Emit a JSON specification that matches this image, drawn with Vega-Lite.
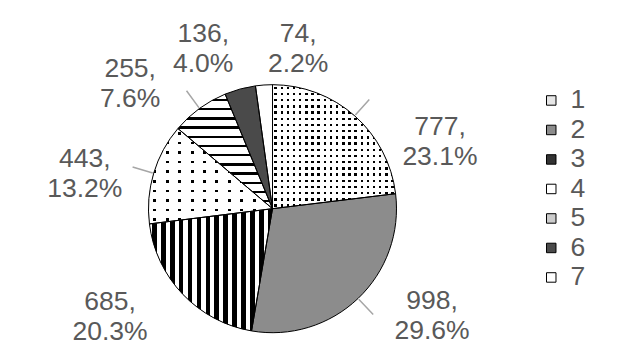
{
  "$schema": "https://vega.github.io/schema/vega-lite/v6.json",
  "width": 545,
  "height": 294,
  "autosize": {"type": "none"},
  "padding": {"left": 0, "top": 61.7, "right": 80, "bottom": 0.3},
  "background": "white",
  "view": {"stroke": null},
  "config": {"font": "Liberation Sans"},
  "data": {
    "values": [
      {"k": 1, "value": 777, "label": "777,\n23.1%"},
      {"k": 2, "value": 998, "label": "998,\n29.6%"},
      {"k": 3, "value": 685, "label": "685,\n20.3%"},
      {"k": 4, "value": 443, "label": "443,\n13.2%"},
      {"k": 5, "value": 255, "label": "255,\n7.6%"},
      {"k": 6, "value": 136, "label": "136,\n4.0%"},
      {"k": 7, "value": 74, "label": "74,\n2.2%"}
    ]
  },
  "layer": [
    {
      "mark": {"type": "arc", "radius": 124},
      "encoding": {
        "theta": {"field": "value", "type": "quantitative", "stack": true},
        "order": {"field": "k", "type": "quantitative", "sort": "ascending"},
        "color": {
          "field": "k",
          "type": "nominal",
          "scale": {"domain": [1, 2, 3, 4, 5, 6, 7], "range": ["#e6e6e6", "#8c8c8c", "#333333", "#ffffff", "#cccccc", "#4a4a4a", "#ffffff"]},
          "legend": {
            "orient": "none",
            "legendX": 538,
            "legendY": 25.5,
            "title": null,
            "symbolType": "square",
            "symbolSize": 90,
            "symbolStrokeColor": "#000000",
            "symbolStrokeWidth": 1,
            "symbolOpacity": 1,
            "labelFontSize": 26.5,
            "labelFont": "Liberation Sans",
            "labelColor": "#595959",
            "labelOffset": 6,
            "rowPadding": 2.5,
            "padding": 0
          }
        }
      }
    },
    {
      "mark": {"type": "arc", "radius": 124},
      "encoding": {
        "theta": {"field": "value", "type": "quantitative", "stack": true},
        "order": {"field": "k", "type": "quantitative", "sort": "ascending"},
        "fill": {
          "condition": [
            {"test": "datum.k == 3", "value": {"gradient": "linear", "x1": 0, "y1": 0, "x2": 1, "y2": 0, "stops": [
              {"offset": 0, "color": "#fff"},
              {"offset": 0.022, "color": "#fff"}, {"offset": 0.022, "color": "#000"}, {"offset": 0.0593, "color": "#000"}, {"offset": 0.0593, "color": "#fff"},
              {"offset": 0.0943, "color": "#fff"}, {"offset": 0.0943, "color": "#000"}, {"offset": 0.1317, "color": "#000"}, {"offset": 0.1317, "color": "#fff"},
              {"offset": 0.1667, "color": "#fff"}, {"offset": 0.1667, "color": "#000"}, {"offset": 0.2041, "color": "#000"}, {"offset": 0.2041, "color": "#fff"},
              {"offset": 0.239, "color": "#fff"}, {"offset": 0.239, "color": "#000"}, {"offset": 0.2764, "color": "#000"}, {"offset": 0.2764, "color": "#fff"},
              {"offset": 0.3114, "color": "#fff"}, {"offset": 0.3114, "color": "#000"}, {"offset": 0.3488, "color": "#000"}, {"offset": 0.3488, "color": "#fff"},
              {"offset": 0.3837, "color": "#fff"}, {"offset": 0.3837, "color": "#000"}, {"offset": 0.4211, "color": "#000"}, {"offset": 0.4211, "color": "#fff"},
              {"offset": 0.4561, "color": "#fff"}, {"offset": 0.4561, "color": "#000"}, {"offset": 0.4935, "color": "#000"}, {"offset": 0.4935, "color": "#fff"},
              {"offset": 0.5285, "color": "#fff"}, {"offset": 0.5285, "color": "#000"}, {"offset": 0.5659, "color": "#000"}, {"offset": 0.5659, "color": "#fff"},
              {"offset": 0.6008, "color": "#fff"}, {"offset": 0.6008, "color": "#000"}, {"offset": 0.6382, "color": "#000"}, {"offset": 0.6382, "color": "#fff"},
              {"offset": 0.6732, "color": "#fff"}, {"offset": 0.6732, "color": "#000"}, {"offset": 0.7106, "color": "#000"}, {"offset": 0.7106, "color": "#fff"},
              {"offset": 0.7455, "color": "#fff"}, {"offset": 0.7455, "color": "#000"}, {"offset": 0.7829, "color": "#000"}, {"offset": 0.7829, "color": "#fff"},
              {"offset": 0.8179, "color": "#fff"}, {"offset": 0.8179, "color": "#000"}, {"offset": 0.8553, "color": "#000"}, {"offset": 0.8553, "color": "#fff"},
              {"offset": 0.8902, "color": "#fff"}, {"offset": 0.8902, "color": "#000"}, {"offset": 0.9276, "color": "#000"}, {"offset": 0.9276, "color": "#fff"},
              {"offset": 0.9626, "color": "#fff"}, {"offset": 0.9626, "color": "#000"}, {"offset": 1, "color": "#000"}
            ]}},
            {"test": "datum.k == 5", "value": {"gradient": "linear", "x1": 0, "y1": 0, "x2": 0, "y2": 1, "stops": [
              {"offset": 0, "color": "#fff"},
              {"offset": 0.0401, "color": "#fff"}, {"offset": 0.0401, "color": "#000"}, {"offset": 0.0628, "color": "#000"}, {"offset": 0.0628, "color": "#fff"},
              {"offset": 0.1204, "color": "#fff"}, {"offset": 0.1204, "color": "#000"}, {"offset": 0.1431, "color": "#000"}, {"offset": 0.1431, "color": "#fff"},
              {"offset": 0.2007, "color": "#fff"}, {"offset": 0.2007, "color": "#000"}, {"offset": 0.2234, "color": "#000"}, {"offset": 0.2234, "color": "#fff"},
              {"offset": 0.281, "color": "#fff"}, {"offset": 0.281, "color": "#000"}, {"offset": 0.3037, "color": "#000"}, {"offset": 0.3037, "color": "#fff"},
              {"offset": 0.3613, "color": "#fff"}, {"offset": 0.3613, "color": "#000"}, {"offset": 0.3839, "color": "#000"}, {"offset": 0.3839, "color": "#fff"},
              {"offset": 0.4415, "color": "#fff"}, {"offset": 0.4415, "color": "#000"}, {"offset": 0.4642, "color": "#000"}, {"offset": 0.4642, "color": "#fff"},
              {"offset": 0.5218, "color": "#fff"}, {"offset": 0.5218, "color": "#000"}, {"offset": 0.5445, "color": "#000"}, {"offset": 0.5445, "color": "#fff"},
              {"offset": 0.6021, "color": "#fff"}, {"offset": 0.6021, "color": "#000"}, {"offset": 0.6248, "color": "#000"}, {"offset": 0.6248, "color": "#fff"},
              {"offset": 0.6824, "color": "#fff"}, {"offset": 0.6824, "color": "#000"}, {"offset": 0.7051, "color": "#000"}, {"offset": 0.7051, "color": "#fff"},
              {"offset": 0.7627, "color": "#fff"}, {"offset": 0.7627, "color": "#000"}, {"offset": 0.7853, "color": "#000"}, {"offset": 0.7853, "color": "#fff"},
              {"offset": 0.8429, "color": "#fff"}, {"offset": 0.8429, "color": "#000"}, {"offset": 0.8656, "color": "#000"}, {"offset": 0.8656, "color": "#fff"},
              {"offset": 0.9232, "color": "#fff"}, {"offset": 0.9232, "color": "#000"}, {"offset": 0.9459, "color": "#000"}, {"offset": 0.9459, "color": "#fff"},
              {"offset": 1, "color": "#fff"}
            ]}},
            {"test": "datum.k == 1 || datum.k == 4", "value": "#000000"}
          ],
          "value": "rgba(0,0,0,0)"
        }
      }
    },
    {
      "mark": {"type": "arc", "radius": 124},
      "encoding": {
        "theta": {"field": "value", "type": "quantitative", "stack": true},
        "order": {"field": "k", "type": "quantitative", "sort": "ascending"},
        "fill": {
          "condition": [
            {"test": "datum.k == 1", "value": {"gradient": "linear", "x1": 0, "y1": 0, "x2": 1, "y2": 0, "stops": [
              {"offset": 0, "color": "#fff"},
              {"offset": 0.015, "color": "#fff"}, {"offset": 0.015, "color": "rgba(255,255,255,0)"}, {"offset": 0.035, "color": "rgba(255,255,255,0)"}, {"offset": 0.035, "color": "#fff"},
              {"offset": 0.065, "color": "#fff"}, {"offset": 0.065, "color": "rgba(255,255,255,0)"}, {"offset": 0.085, "color": "rgba(255,255,255,0)"}, {"offset": 0.085, "color": "#fff"},
              {"offset": 0.115, "color": "#fff"}, {"offset": 0.115, "color": "rgba(255,255,255,0)"}, {"offset": 0.135, "color": "rgba(255,255,255,0)"}, {"offset": 0.135, "color": "#fff"},
              {"offset": 0.165, "color": "#fff"}, {"offset": 0.165, "color": "rgba(255,255,255,0)"}, {"offset": 0.185, "color": "rgba(255,255,255,0)"}, {"offset": 0.185, "color": "#fff"},
              {"offset": 0.215, "color": "#fff"}, {"offset": 0.215, "color": "rgba(255,255,255,0)"}, {"offset": 0.235, "color": "rgba(255,255,255,0)"}, {"offset": 0.235, "color": "#fff"},
              {"offset": 0.265, "color": "#fff"}, {"offset": 0.265, "color": "rgba(255,255,255,0)"}, {"offset": 0.285, "color": "rgba(255,255,255,0)"}, {"offset": 0.285, "color": "#fff"},
              {"offset": 0.315, "color": "#fff"}, {"offset": 0.315, "color": "rgba(255,255,255,0)"}, {"offset": 0.335, "color": "rgba(255,255,255,0)"}, {"offset": 0.335, "color": "#fff"},
              {"offset": 0.365, "color": "#fff"}, {"offset": 0.365, "color": "rgba(255,255,255,0)"}, {"offset": 0.385, "color": "rgba(255,255,255,0)"}, {"offset": 0.385, "color": "#fff"},
              {"offset": 0.415, "color": "#fff"}, {"offset": 0.415, "color": "rgba(255,255,255,0)"}, {"offset": 0.435, "color": "rgba(255,255,255,0)"}, {"offset": 0.435, "color": "#fff"},
              {"offset": 0.465, "color": "#fff"}, {"offset": 0.465, "color": "rgba(255,255,255,0)"}, {"offset": 0.485, "color": "rgba(255,255,255,0)"}, {"offset": 0.485, "color": "#fff"},
              {"offset": 0.515, "color": "#fff"}, {"offset": 0.515, "color": "rgba(255,255,255,0)"}, {"offset": 0.535, "color": "rgba(255,255,255,0)"}, {"offset": 0.535, "color": "#fff"},
              {"offset": 0.565, "color": "#fff"}, {"offset": 0.565, "color": "rgba(255,255,255,0)"}, {"offset": 0.585, "color": "rgba(255,255,255,0)"}, {"offset": 0.585, "color": "#fff"},
              {"offset": 0.615, "color": "#fff"}, {"offset": 0.615, "color": "rgba(255,255,255,0)"}, {"offset": 0.635, "color": "rgba(255,255,255,0)"}, {"offset": 0.635, "color": "#fff"},
              {"offset": 0.665, "color": "#fff"}, {"offset": 0.665, "color": "rgba(255,255,255,0)"}, {"offset": 0.685, "color": "rgba(255,255,255,0)"}, {"offset": 0.685, "color": "#fff"},
              {"offset": 0.715, "color": "#fff"}, {"offset": 0.715, "color": "rgba(255,255,255,0)"}, {"offset": 0.735, "color": "rgba(255,255,255,0)"}, {"offset": 0.735, "color": "#fff"},
              {"offset": 0.765, "color": "#fff"}, {"offset": 0.765, "color": "rgba(255,255,255,0)"}, {"offset": 0.785, "color": "rgba(255,255,255,0)"}, {"offset": 0.785, "color": "#fff"},
              {"offset": 0.815, "color": "#fff"}, {"offset": 0.815, "color": "rgba(255,255,255,0)"}, {"offset": 0.835, "color": "rgba(255,255,255,0)"}, {"offset": 0.835, "color": "#fff"},
              {"offset": 0.865, "color": "#fff"}, {"offset": 0.865, "color": "rgba(255,255,255,0)"}, {"offset": 0.885, "color": "rgba(255,255,255,0)"}, {"offset": 0.885, "color": "#fff"},
              {"offset": 0.915, "color": "#fff"}, {"offset": 0.915, "color": "rgba(255,255,255,0)"}, {"offset": 0.935, "color": "rgba(255,255,255,0)"}, {"offset": 0.935, "color": "#fff"},
              {"offset": 0.965, "color": "#fff"}, {"offset": 0.965, "color": "rgba(255,255,255,0)"}, {"offset": 0.985, "color": "rgba(255,255,255,0)"}, {"offset": 0.985, "color": "#fff"},
              {"offset": 1, "color": "#fff"}
            ]}},
            {"test": "datum.k == 4", "value": {"gradient": "linear", "x1": 0, "y1": 0, "x2": 1, "y2": 0, "stops": [
              {"offset": 0, "color": "#fff"},
              {"offset": 0.04, "color": "#fff"}, {"offset": 0.04, "color": "rgba(255,255,255,0)"}, {"offset": 0.063, "color": "rgba(255,255,255,0)"}, {"offset": 0.063, "color": "#fff"},
              {"offset": 0.14, "color": "#fff"}, {"offset": 0.14, "color": "rgba(255,255,255,0)"}, {"offset": 0.163, "color": "rgba(255,255,255,0)"}, {"offset": 0.163, "color": "#fff"},
              {"offset": 0.24, "color": "#fff"}, {"offset": 0.24, "color": "rgba(255,255,255,0)"}, {"offset": 0.263, "color": "rgba(255,255,255,0)"}, {"offset": 0.263, "color": "#fff"},
              {"offset": 0.34, "color": "#fff"}, {"offset": 0.34, "color": "rgba(255,255,255,0)"}, {"offset": 0.363, "color": "rgba(255,255,255,0)"}, {"offset": 0.363, "color": "#fff"},
              {"offset": 0.44, "color": "#fff"}, {"offset": 0.44, "color": "rgba(255,255,255,0)"}, {"offset": 0.463, "color": "rgba(255,255,255,0)"}, {"offset": 0.463, "color": "#fff"},
              {"offset": 0.54, "color": "#fff"}, {"offset": 0.54, "color": "rgba(255,255,255,0)"}, {"offset": 0.563, "color": "rgba(255,255,255,0)"}, {"offset": 0.563, "color": "#fff"},
              {"offset": 0.64, "color": "#fff"}, {"offset": 0.64, "color": "rgba(255,255,255,0)"}, {"offset": 0.663, "color": "rgba(255,255,255,0)"}, {"offset": 0.663, "color": "#fff"},
              {"offset": 0.74, "color": "#fff"}, {"offset": 0.74, "color": "rgba(255,255,255,0)"}, {"offset": 0.763, "color": "rgba(255,255,255,0)"}, {"offset": 0.763, "color": "#fff"},
              {"offset": 0.84, "color": "#fff"}, {"offset": 0.84, "color": "rgba(255,255,255,0)"}, {"offset": 0.863, "color": "rgba(255,255,255,0)"}, {"offset": 0.863, "color": "#fff"},
              {"offset": 0.94, "color": "#fff"}, {"offset": 0.94, "color": "rgba(255,255,255,0)"}, {"offset": 0.963, "color": "rgba(255,255,255,0)"}, {"offset": 0.963, "color": "#fff"},
              {"offset": 1, "color": "#fff"}
            ]}}
          ],
          "value": "rgba(0,0,0,0)"
        }
      }
    },
    {
      "mark": {"type": "arc", "radius": 124},
      "encoding": {
        "theta": {"field": "value", "type": "quantitative", "stack": true},
        "order": {"field": "k", "type": "quantitative", "sort": "ascending"},
        "fill": {
          "condition": [
            {"test": "datum.k == 1", "value": {"gradient": "linear", "x1": 0, "y1": 0, "x2": 0, "y2": 1, "stops": [
              {"offset": 0, "color": "#fff"},
              {"offset": 0.015, "color": "#fff"}, {"offset": 0.015, "color": "rgba(255,255,255,0)"}, {"offset": 0.035, "color": "rgba(255,255,255,0)"}, {"offset": 0.035, "color": "#fff"},
              {"offset": 0.065, "color": "#fff"}, {"offset": 0.065, "color": "rgba(255,255,255,0)"}, {"offset": 0.085, "color": "rgba(255,255,255,0)"}, {"offset": 0.085, "color": "#fff"},
              {"offset": 0.115, "color": "#fff"}, {"offset": 0.115, "color": "rgba(255,255,255,0)"}, {"offset": 0.135, "color": "rgba(255,255,255,0)"}, {"offset": 0.135, "color": "#fff"},
              {"offset": 0.165, "color": "#fff"}, {"offset": 0.165, "color": "rgba(255,255,255,0)"}, {"offset": 0.185, "color": "rgba(255,255,255,0)"}, {"offset": 0.185, "color": "#fff"},
              {"offset": 0.215, "color": "#fff"}, {"offset": 0.215, "color": "rgba(255,255,255,0)"}, {"offset": 0.235, "color": "rgba(255,255,255,0)"}, {"offset": 0.235, "color": "#fff"},
              {"offset": 0.265, "color": "#fff"}, {"offset": 0.265, "color": "rgba(255,255,255,0)"}, {"offset": 0.285, "color": "rgba(255,255,255,0)"}, {"offset": 0.285, "color": "#fff"},
              {"offset": 0.315, "color": "#fff"}, {"offset": 0.315, "color": "rgba(255,255,255,0)"}, {"offset": 0.335, "color": "rgba(255,255,255,0)"}, {"offset": 0.335, "color": "#fff"},
              {"offset": 0.365, "color": "#fff"}, {"offset": 0.365, "color": "rgba(255,255,255,0)"}, {"offset": 0.385, "color": "rgba(255,255,255,0)"}, {"offset": 0.385, "color": "#fff"},
              {"offset": 0.415, "color": "#fff"}, {"offset": 0.415, "color": "rgba(255,255,255,0)"}, {"offset": 0.435, "color": "rgba(255,255,255,0)"}, {"offset": 0.435, "color": "#fff"},
              {"offset": 0.465, "color": "#fff"}, {"offset": 0.465, "color": "rgba(255,255,255,0)"}, {"offset": 0.485, "color": "rgba(255,255,255,0)"}, {"offset": 0.485, "color": "#fff"},
              {"offset": 0.515, "color": "#fff"}, {"offset": 0.515, "color": "rgba(255,255,255,0)"}, {"offset": 0.535, "color": "rgba(255,255,255,0)"}, {"offset": 0.535, "color": "#fff"},
              {"offset": 0.565, "color": "#fff"}, {"offset": 0.565, "color": "rgba(255,255,255,0)"}, {"offset": 0.585, "color": "rgba(255,255,255,0)"}, {"offset": 0.585, "color": "#fff"},
              {"offset": 0.615, "color": "#fff"}, {"offset": 0.615, "color": "rgba(255,255,255,0)"}, {"offset": 0.635, "color": "rgba(255,255,255,0)"}, {"offset": 0.635, "color": "#fff"},
              {"offset": 0.665, "color": "#fff"}, {"offset": 0.665, "color": "rgba(255,255,255,0)"}, {"offset": 0.685, "color": "rgba(255,255,255,0)"}, {"offset": 0.685, "color": "#fff"},
              {"offset": 0.715, "color": "#fff"}, {"offset": 0.715, "color": "rgba(255,255,255,0)"}, {"offset": 0.735, "color": "rgba(255,255,255,0)"}, {"offset": 0.735, "color": "#fff"},
              {"offset": 0.765, "color": "#fff"}, {"offset": 0.765, "color": "rgba(255,255,255,0)"}, {"offset": 0.785, "color": "rgba(255,255,255,0)"}, {"offset": 0.785, "color": "#fff"},
              {"offset": 0.815, "color": "#fff"}, {"offset": 0.815, "color": "rgba(255,255,255,0)"}, {"offset": 0.835, "color": "rgba(255,255,255,0)"}, {"offset": 0.835, "color": "#fff"},
              {"offset": 0.865, "color": "#fff"}, {"offset": 0.865, "color": "rgba(255,255,255,0)"}, {"offset": 0.885, "color": "rgba(255,255,255,0)"}, {"offset": 0.885, "color": "#fff"},
              {"offset": 0.915, "color": "#fff"}, {"offset": 0.915, "color": "rgba(255,255,255,0)"}, {"offset": 0.935, "color": "rgba(255,255,255,0)"}, {"offset": 0.935, "color": "#fff"},
              {"offset": 0.965, "color": "#fff"}, {"offset": 0.965, "color": "rgba(255,255,255,0)"}, {"offset": 0.985, "color": "rgba(255,255,255,0)"}, {"offset": 0.985, "color": "#fff"},
              {"offset": 1, "color": "#fff"}
            ]}},
            {"test": "datum.k == 4", "value": {"gradient": "linear", "x1": 0, "y1": 0, "x2": 0, "y2": 1, "stops": [
              {"offset": 0, "color": "#fff"},
              {"offset": 0.04, "color": "#fff"}, {"offset": 0.04, "color": "rgba(255,255,255,0)"}, {"offset": 0.066, "color": "rgba(255,255,255,0)"}, {"offset": 0.066, "color": "#fff"},
              {"offset": 0.14, "color": "#fff"}, {"offset": 0.14, "color": "rgba(255,255,255,0)"}, {"offset": 0.166, "color": "rgba(255,255,255,0)"}, {"offset": 0.166, "color": "#fff"},
              {"offset": 0.24, "color": "#fff"}, {"offset": 0.24, "color": "rgba(255,255,255,0)"}, {"offset": 0.266, "color": "rgba(255,255,255,0)"}, {"offset": 0.266, "color": "#fff"},
              {"offset": 0.34, "color": "#fff"}, {"offset": 0.34, "color": "rgba(255,255,255,0)"}, {"offset": 0.366, "color": "rgba(255,255,255,0)"}, {"offset": 0.366, "color": "#fff"},
              {"offset": 0.44, "color": "#fff"}, {"offset": 0.44, "color": "rgba(255,255,255,0)"}, {"offset": 0.466, "color": "rgba(255,255,255,0)"}, {"offset": 0.466, "color": "#fff"},
              {"offset": 0.54, "color": "#fff"}, {"offset": 0.54, "color": "rgba(255,255,255,0)"}, {"offset": 0.566, "color": "rgba(255,255,255,0)"}, {"offset": 0.566, "color": "#fff"},
              {"offset": 0.64, "color": "#fff"}, {"offset": 0.64, "color": "rgba(255,255,255,0)"}, {"offset": 0.666, "color": "rgba(255,255,255,0)"}, {"offset": 0.666, "color": "#fff"},
              {"offset": 0.74, "color": "#fff"}, {"offset": 0.74, "color": "rgba(255,255,255,0)"}, {"offset": 0.766, "color": "rgba(255,255,255,0)"}, {"offset": 0.766, "color": "#fff"},
              {"offset": 0.84, "color": "#fff"}, {"offset": 0.84, "color": "rgba(255,255,255,0)"}, {"offset": 0.866, "color": "rgba(255,255,255,0)"}, {"offset": 0.866, "color": "#fff"},
              {"offset": 0.94, "color": "#fff"}, {"offset": 0.94, "color": "rgba(255,255,255,0)"}, {"offset": 0.966, "color": "rgba(255,255,255,0)"}, {"offset": 0.966, "color": "#fff"},
              {"offset": 1, "color": "#fff"}
            ]}}
          ],
          "value": "rgba(0,0,0,0)"
        }
      }
    },
    {
      "mark": {"type": "arc", "radius": 124, "fill": "transparent", "stroke": "#000000", "strokeWidth": 1},
      "encoding": {
        "theta": {"field": "value", "type": "quantitative", "stack": true},
        "order": {"field": "k", "type": "quantitative", "sort": "ascending"}
      }
    },
    {
      "mark": {"type": "arc", "radius": 146, "radius2": 125, "padAngle": 3.1416, "fill": "transparent", "strokeWidth": 1.5},
      "encoding": {
        "theta": {"field": "value", "type": "quantitative", "stack": true},
        "order": {"field": "k", "type": "quantitative", "sort": "ascending"},
        "stroke": {"condition": {"test": "datum.k == 1 || datum.k == 2 || datum.k == 4 || datum.k == 5", "value": "#a6a6a6"}, "value": "transparent"}
      }
    },
    {
      "mark": {
        "type": "text",
        "radius": 150,
        "font": "Liberation Sans",
        "fontSize": 26.5,
        "color": "#595959",
        "align": "center",
        "baseline": "middle",
        "lineBreak": "\n",
        "lineHeight": 30,
        "dx": {"expr": "datum.k == 1 ? 68 : datum.k == 2 ? 56 : datum.k == 3 ? -54 : datum.k == 4 ? -44 : datum.k == 5 ? -54 : datum.k == 6 ? -30 : 36"},
        "dy": {"expr": "datum.k == 1 ? 30.6 : datum.k == 2 ? -16.3 : datum.k == 3 ? -10.2 : datum.k == 4 ? -6.8 : datum.k == 5 ? -18.5 : datum.k == 6 ? -30 : -25"}
      },
      "encoding": {
        "theta": {"field": "value", "type": "quantitative", "stack": true},
        "order": {"field": "k", "type": "quantitative", "sort": "ascending"},
        "text": {"field": "label", "type": "nominal"}
      }
    }
  ]
}
